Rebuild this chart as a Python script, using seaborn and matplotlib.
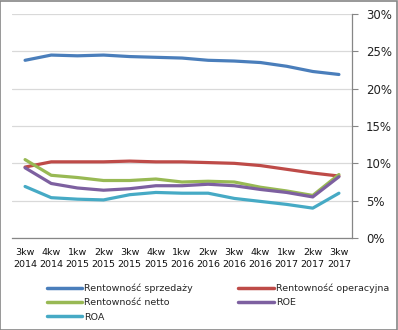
import matplotlib
matplotlib.use("Agg")
import matplotlib.pyplot as plt
import seaborn as sns
import pandas as pd
import numpy as np
from matplotlib.patches import Rectangle

quarters = ["3kw\n2014", "4kw\n2014", "1kw\n2015", "2kw\n2015", "3kw\n2015", "4kw\n2015",
            "1kw\n2016", "2kw\n2016", "3kw\n2016", "4kw\n2016", "1kw\n2017", "2kw\n2017", "3kw\n2017"]
sprzedazy = [23.8, 24.5, 24.4, 24.5, 24.3, 24.2, 24.1, 23.8, 23.7, 23.5, 23.0, 22.3, 21.9]
operacyjna = [9.5, 10.2, 10.2, 10.2, 10.3, 10.2, 10.2, 10.1, 10.0, 9.7, 9.2, 8.7, 8.3]
netto = [10.5, 8.4, 8.1, 7.7, 7.7, 7.9, 7.5, 7.6, 7.5, 6.8, 6.3, 5.7, 8.5]
roe = [9.4, 7.3, 6.7, 6.4, 6.6, 7.0, 7.0, 7.2, 7.0, 6.5, 6.1, 5.5, 8.2]
roa = [6.9, 5.4, 5.2, 5.1, 5.8, 6.1, 6.0, 6.0, 5.3, 4.9, 4.5, 4.0, 6.0]

series = {
    "Rentowność sprzedaży": sprzedazy,
    "Rentowność operacyjna": operacyjna,
    "Rentowność netto": netto,
    "ROE": roe,
    "ROA": roa,
}
colors = ["#4a7ebb", "#be4b48", "#98b954", "#7d60a0", "#46aac5"]

rows = []
for name, vals in series.items():
    for i, v in enumerate(vals):
        rows.append({"x": i, "value": v, "series": name})
df = pd.DataFrame(rows)

sns.set_style("white")
plt.rcParams["font.family"] = ["DejaVu Sans"]

fig = plt.figure(figsize=(3.98, 3.30), dpi=100)
ax = fig.add_axes([12/398, 1-238/330, 340/398, 224/330])

sns.lineplot(data=df, x="x", y="value", hue="series", palette=colors, ax=ax,
             linewidth=2.3, legend=False, sort=False)

ax.set_xlim(-0.5, len(quarters) - 0.5)
ax.set_ylim(0, 30)
ax.yaxis.tick_right()
ax.set_yticks([0, 5, 10, 15, 20, 25, 30])
ax.set_yticklabels([f"{t}%" for t in [0, 5, 10, 15, 20, 25, 30]], fontsize=8.5, color="#222222")
ax.tick_params(axis="y", which="major", length=4, color="#868686", direction="out", pad=6)
ax.grid(axis="y", color="#d9d9d9", linewidth=0.9)
ax.set_axisbelow(True)

ax.set_xticks(range(len(quarters)))
ax.set_xticklabels(quarters, fontsize=6.8, color="#111111", linespacing=1.45)
ax.set_xticks(np.arange(-0.5, len(quarters), 1), minor=True)
ax.tick_params(axis="x", which="major", length=0, pad=7)
ax.tick_params(axis="x", which="minor", length=4, color="#868686", direction="out")
ax.set_xlabel("")
ax.set_ylabel("")

for s in ["top", "left"]:
    ax.spines[s].set_visible(False)
ax.spines["right"].set_color("#868686")
ax.spines["bottom"].set_color("#868686")
ax.spines["right"].set_linewidth(0.9)
ax.spines["bottom"].set_linewidth(0.9)

names = list(series.keys())
order = [0, 2, 4, 1, 3]
handles = [plt.Line2D([0], [0], color=colors[i], linewidth=2.5) for i in order]
labels = [names[i] for i in order]
fig.legend(handles, labels, loc="lower left", bbox_to_anchor=(38/398, 0.0),
           ncol=2, frameon=False, fontsize=6.8, handlelength=3.8, handletextpad=0.2,
           columnspacing=4.8, labelspacing=0.55)

fig.patches.append(Rectangle((0.001, 0.001), 0.997, 0.996, transform=fig.transFigure,
                             fill=False, edgecolor="#868686", linewidth=1.2))

fig.savefig("out.png", dpi=100)
